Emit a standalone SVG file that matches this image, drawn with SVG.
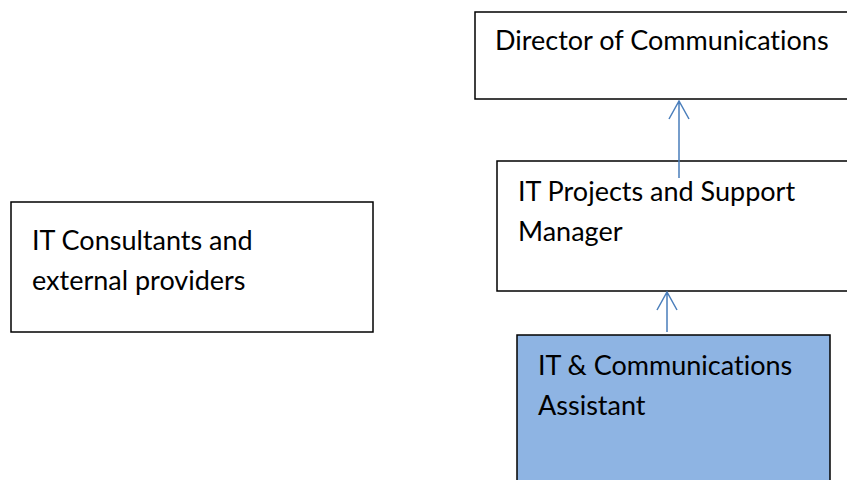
<svg xmlns="http://www.w3.org/2000/svg" width="847" height="480" viewBox="0 0 847 480">
  <style>
    .box { fill: #ffffff; stroke: #000000; stroke-width: 1.5; }
    .box.hl { fill: #8eb4e3; }
    .lbl { font-family: Lato, "Open Sans", "Liberation Sans", sans-serif; font-size: 27px; fill: #000000; font-variant-ligatures: none; }
    .link { stroke: #4a7ebb; stroke-width: 1.5; fill: none; }
  </style>
  <rect width="847" height="480" fill="#ffffff"/>

  <g id="director">
    <rect class="box" x="475" y="12" width="380" height="87"/>
    <text class="lbl" x="495" y="50">Director of Communications</text>
  </g>

  <g id="it-manager">
    <rect class="box" x="497" y="161" width="360" height="130"/>
    <text class="lbl" x="518" y="201">IT Projects and Support</text>
    <text class="lbl" x="518" y="241">Manager</text>
  </g>

  <g id="it-assistant">
    <rect class="box hl" x="517" y="335" width="313" height="160"/>
    <text class="lbl" x="538" y="375">IT &amp; Communications</text>
    <text class="lbl" x="538" y="415">Assistant</text>
  </g>

  <g id="it-consultants">
    <rect class="box" x="11" y="202" width="362" height="130"/>
    <text class="lbl" x="32" y="250">IT Consultants and</text>
    <text class="lbl" x="32" y="290">external providers</text>
  </g>

  <g id="connectors">
    <path class="link" d="M679 178 V101 M669 119 L679 101 L689 119"/>
    <path class="link" d="M667 332 V292 M657 310 L667 292 L677 310"/>
  </g>
</svg>
